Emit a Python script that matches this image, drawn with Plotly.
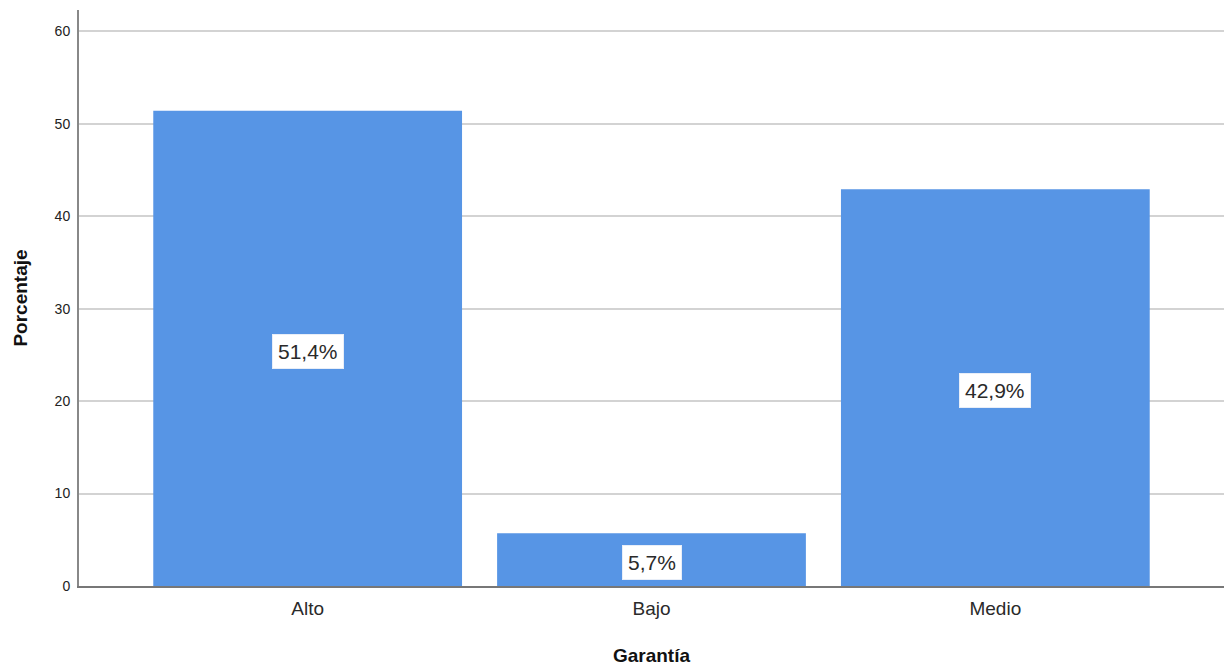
import plotly.graph_objects as go

categorias = ["Alto", "Bajo", "Medio"]
porcentajes = [51.4, 5.7, 42.9]
etiquetas = ["51,4%", "5,7%", "42,9%"]
ticks_y = [0, 10, 20, 30, 40, 50, 60]

fig = go.Figure()
fig.add_trace(go.Bar(
    x=categorias,
    y=porcentajes,
    width=0.898,
    marker=dict(color="#5795e5", line=dict(width=0)),
    hoverinfo="skip",
))

# value labels in white boxes, centred inside each bar
for cat, val, txt in zip(categorias, porcentajes, etiquetas):
    fig.add_annotation(
        x=cat, y=val / 2, text=txt, showarrow=False,
        yshift=-3,
        font=dict(family="Liberation Sans, Arial", size=21, color="#2a2a2a"),
        bgcolor="white", bordercolor="#e8eef8", borderwidth=1, borderpad=5,
    )

fig.update_layout(
    width=1232, height=668,
    margin=dict(l=79, r=8, t=10, b=82),
    paper_bgcolor="white", plot_bgcolor="white",
    showlegend=False,
    font=dict(family="Liberation Sans, Arial", color="#222222"),
    xaxis=dict(
        range=[-0.665, 2.665],
        automargin=False,
        showgrid=False,
        showline=True, linecolor="#777777", linewidth=2,
        ticks="", tickfont=dict(size=19, color="#2a2a2a"),
        ticklabelstandoff=4,
        title=dict(text="<b>Garantía</b>", font=dict(size=19, color="#111111"), standoff=31),
        fixedrange=True,
    ),
    yaxis=dict(
        range=[0, 62.3],
        tickvals=ticks_y,
        automargin=False,
        showgrid=True, gridcolor="#d3d3d3", gridwidth=2,
        zeroline=False,
        showline=True, linecolor="#888888", linewidth=2,
        ticks="", ticklen=0,
        ticklabelstandoff=4,
        tickfont=dict(size=14, color="#222222"),
        title=dict(text="<b>Porcentaje</b>", font=dict(size=19, color="#111111"), standoff=22),
        fixedrange=True,
    ),
)

fig.write_html("out.html")
